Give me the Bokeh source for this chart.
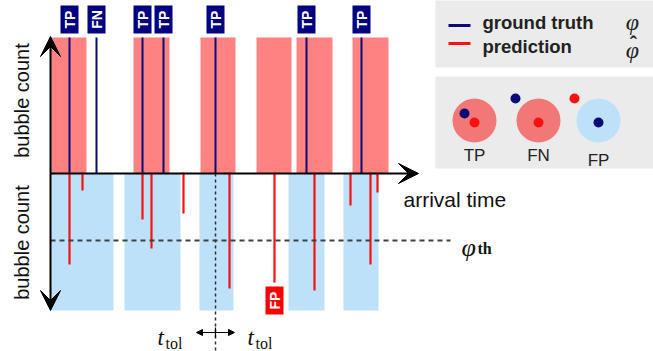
from math import pi
from bokeh.plotting import figure
from bokeh.models import Range1d, ColumnDataSource, Arrow, VeeHead, NormalHead
from bokeh.core.properties import value
from bokeh.embed import file_html
from bokeh.resources import INLINE

# ---- data (time axis: arrival time, count axis: bubble count) ----
gt_time = [19, 46, 92, 113, 165, 256, 311]
gt_label = ["TP", "FN", "TP", "TP", "TP", "TP", "TP"]
gt_count = [136, 136, 136, 136, 136, 136, 136]

pred_time = [19, 32, 92, 101, 133, 179, 224, 264, 300, 320, 327]
pred_count = [91, 17, 46, 75, 40, 115, 109, 117, 32, 91, 19]

threshold = 67
fp_time = [224]
fp_label = ["FP"]

red_band_start = [0, 83, 150, 206, 246, 302]
red_band_end = [36, 119, 185, 241, 282, 338]
blue_band_start = [0, 74, 149, 238, 293]
blue_band_end = [63, 130, 183, 274, 328]
band_height = 136
tol_center = 165
tol_half = 19

RED_BAND = "#ff8282"
BLUE_BAND = "#bee1fa"
NAVY = "#0a0a78"
RED = "#ff1010"
SANS = value("Liberation Sans")
SERIF = value("Liberation Serif")

p = figure(width=653, height=351, x_range=Range1d(-50, 603), y_range=Range1d(-178, 173),
           x_axis_type=None, y_axis_type=None, toolbar_location=None,
           output_backend="svg", min_border=0)
p.grid.visible = False
p.outline_line_color = None
p.background_fill_color = "white"
p.border_fill_color = "white"

# bands
p.quad(left=red_band_start, right=red_band_end, bottom=0, top=band_height,
       fill_color=RED_BAND, line_color=None)
p.quad(left=blue_band_start, right=blue_band_end, bottom=-band_height - 1, top=0,
       fill_color=BLUE_BAND, line_color=None)

# ground truth lines
p.segment(x0=gt_time, y0=[0] * len(gt_time), x1=gt_time, y1=gt_count,
          line_color=NAVY, line_width=2)
# predictions (drawn downward)
p.segment(x0=pred_time, y0=[1] * len(pred_time), x1=pred_time,
          y1=[-c for c in pred_count], line_color=RED, line_width=2.2)

# threshold line
p.line(x=[0, 400], y=[-threshold, -threshold], line_color="#404040",
       line_width=2, line_dash="5 4")
# tolerance vertical dashed line
p.line(x=[tol_center, tol_center], y=[0, -180], line_color="#303030",
       line_width=1.5, line_dash="3 3")

# axes arrows
for (xe, ye) in [(0, 137), (0, -137), (368, 0)]:
    p.add_layout(Arrow(x_start=0, y_start=0, x_end=xe, y_end=ye, line_width=2,
                       line_color="black",
                       end=VeeHead(size=20, fill_color="black", line_color="black")))

# tolerance double arrow
p.add_layout(Arrow(x_start=tol_center - tol_half, y_start=-159, x_end=tol_center + tol_half,
                   y_end=-159, line_width=1.2, line_color="black",
                   start=NormalHead(size=6, fill_color="black", line_color="black"),
                   end=NormalHead(size=6, fill_color="black", line_color="black")))
p.segment(x0=[tol_center], y0=[-154], x1=[tol_center], y1=[-164], line_color="black",
          line_width=1.2)

# label boxes
gt_src = ColumnDataSource(dict(x=gt_time, y=[154] * len(gt_time), t=gt_label))
p.rect(x="x", y="y", width=18, height=28, source=gt_src, fill_color="#000080",
       line_color=None)
p.text(x="x", y="y", text="t", source=gt_src, angle=pi / 2, text_color="white",
       text_font=SANS, text_font_style="bold", text_font_size="14px",
       text_align="center", text_baseline="middle")
fp_src = ColumnDataSource(dict(x=fp_time, y=[-127], t=fp_label))
p.rect(x="x", y="y", width=18, height=28, source=fp_src, fill_color="#ff0000",
       line_color=None)
p.text(x="x", y="y", text="t", source=fp_src, angle=pi / 2, text_color="white",
       text_font=SANS, text_font_style="bold", text_font_size="14px",
       text_align="center", text_baseline="middle")

# axis titles
p.text(x=[-29, -29], y=[73, -69], text=["bubble count", "bubble count"], angle=pi / 2,
       text_font=SANS, text_font_size="20px", text_color="#111",
       text_align="center", text_baseline="middle")
p.text(x=[353], y=[-26], text=["arrival time"], text_font=SANS, text_font_size="21px",
       text_color="#111", text_align="left", text_baseline="middle")

# phi_th
p.text(x=[411], y=[-74], text=["φ"], text_font=SERIF, text_font_style="italic",
       text_font_size="26px", text_color="#111", text_align="left",
       text_baseline="alphabetic")
p.text(x=[427], y=[-75], text=["th"], text_font=SERIF, text_font_style="bold",
       text_font_size="16px", text_color="#111", text_align="left",
       text_baseline="alphabetic")

# t_tol labels
p.text(x=[107, 197], y=[-164, -164], text=["t", "t"], text_font=SERIF,
       text_font_style="italic", text_font_size="23px", text_color="#111",
       text_align="left", text_baseline="alphabetic")
p.text(x=[115, 205], y=[-170, -170], text=["tol", "tol"], text_font=SERIF,
       text_font_size="16px", text_color="#111", text_align="left",
       text_baseline="alphabetic")

# legend boxes
p.quad(left=[385, 385], right=[610, 610], bottom=[106, 5], top=[180, 97],
       fill_color="#ebebeb", line_color=None)
p.segment(x0=[398, 398], y0=[148, 130], x1=[420, 420], y1=[148, 130],
          line_color=[NAVY, RED], line_width=3)
p.text(x=[432, 432], y=[151, 127], text=["ground truth", "prediction"],
       text_font=SANS, text_font_style="bold", text_font_size="18.5px",
       text_color="#222", text_align="left", text_baseline="middle")
p.text(x=[582, 582], y=[152, 124], text=["φ", "φ"], text_font=SERIF,
       text_font_style="italic", text_font_size="24px", text_color="#222",
       text_align="center", text_baseline="alphabetic")
p.text(x=[583], y=[130], text=["\u02c6"], text_font=SERIF, text_font_style="bold",
       text_font_size="22px", text_color="#222",
       text_align="center", text_baseline="alphabetic")

# legend circles
p.scatter(x=[424, 488, 548], y=[53, 53, 53], size=44, marker="circle",
          fill_color=["#f27878", "#f27878", BLUE_BAND], line_color=None)
p.scatter(x=[414, 465, 548], y=[60, 75, 51], size=10, marker="circle",
          fill_color=NAVY, line_color=None)
p.scatter(x=[424, 488, 524], y=[51, 51, 75], size=10, marker="circle",
          fill_color=RED, line_color=None)
p.text(x=[424, 488, 548], y=[18, 18, 13], text=["TP", "FN", "FP"], text_font=SANS,
       text_font_size="17px", text_color="#222", text_align="center",
       text_baseline="middle")

open("out.html", "w").write(file_html(p, INLINE))
